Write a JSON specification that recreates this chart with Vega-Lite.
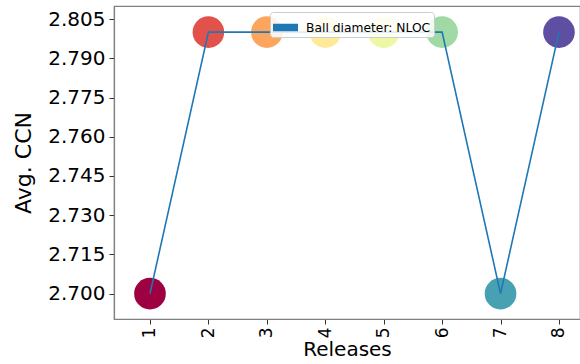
{
  "$schema": "https://vega.github.io/schema/vega-lite/v6.json",
  "width": 466,
  "height": 313,
  "autosize": {"type": "none"},
  "padding": {"left": 114, "top": 6, "right": 0, "bottom": 45},
  "background": "white",
  "config": {
    "font": "DejaVu Sans",
    "view": {"stroke": "#808080", "strokeWidth": 1.2},
    "axis": {
      "labelFont": "DejaVu Sans",
      "titleFont": "DejaVu Sans",
      "labelFontSize": 17,
      "titleFontSize": 17,
      "titleFontWeight": "normal",
      "labelColor": "#000000",
      "titleColor": "#000000",
      "tickColor": "#333333",
      "tickSize": 5,
      "domainColor": "#808080",
      "domainWidth": 1.2,
      "grid": false
    }
  },
  "data": {
    "values": [
      {"release": 1, "ccn": 2.7},
      {"release": 2, "ccn": 2.8},
      {"release": 3, "ccn": 2.8},
      {"release": 4, "ccn": 2.8},
      {"release": 5, "ccn": 2.8},
      {"release": 6, "ccn": 2.8},
      {"release": 7, "ccn": 2.7},
      {"release": 8, "ccn": 2.8}
    ]
  },
  "encoding": {
    "x": {
      "field": "release",
      "type": "quantitative",
      "scale": {"domain": [0.384, 8.36], "nice": false, "zero": false},
      "axis": {
        "values": [1, 2, 3, 4, 5, 6, 7, 8],
        "labelAngle": -90,
        "labelAlign": "right",
        "labelBaseline": "middle",
        "labelPadding": 3,
        "labelFontSize": 17,
        "title": "Releases",
        "titleFontSize": 20,
        "titlePadding": 2
      }
    },
    "y": {
      "field": "ccn",
      "type": "quantitative",
      "scale": {"domain": [2.6903, 2.81], "nice": false, "zero": false},
      "axis": {
        "values": [2.7, 2.715, 2.73, 2.745, 2.76, 2.775, 2.79, 2.805],
        "format": ".3f",
        "labelPadding": 4,
        "labelFontSize": 20,
        "title": "Avg. CCN",
        "titleFontSize": 22,
        "titlePadding": 12
      }
    }
  },
  "layer": [
    {
      "mark": {"type": "point", "filled": true, "shape": "circle", "size": 1000, "opacity": 1},
      "encoding": {
        "color": {
          "field": "release",
          "type": "nominal",
          "scale": {
            "domain": [1, 2, 3, 4, 5, 6, 7, 8],
            "range": ["#9e0142", "#e2524a", "#fca55d", "#feea9a", "#edf8a3", "#a1d9a4", "#48a1b3", "#5e4fa2"]
          },
          "legend": null
        }
      }
    },
    {
      "mark": {"type": "line", "strokeWidth": 1.6},
      "encoding": {
        "color": {
          "datum": "Ball diameter: NLOC",
          "scale": {"range": ["#1f77b4"]},
          "legend": {
            "title": null,
            "orient": "none",
            "legendX": 156,
            "legendY": 6,
            "padding": 3,
            "fillColor": "rgba(255,255,255,0.85)",
            "strokeColor": "#cccccc",
            "cornerRadius": 3,
            "labelFont": "DejaVu Sans",
            "labelFontSize": 12.3,
            "labelColor": "#000000",
            "symbolType": "M-1,-0.3H1V0.3H-1Z",
            "symbolSize": 625,
            "symbolFillColor": "#1f77b4",
            "symbolStrokeWidth": 0,
            "symbolOffset": 0,
            "labelOffset": 8
          }
        }
      }
    }
  ],
  "resolve": {"scale": {"color": "independent"}}
}
